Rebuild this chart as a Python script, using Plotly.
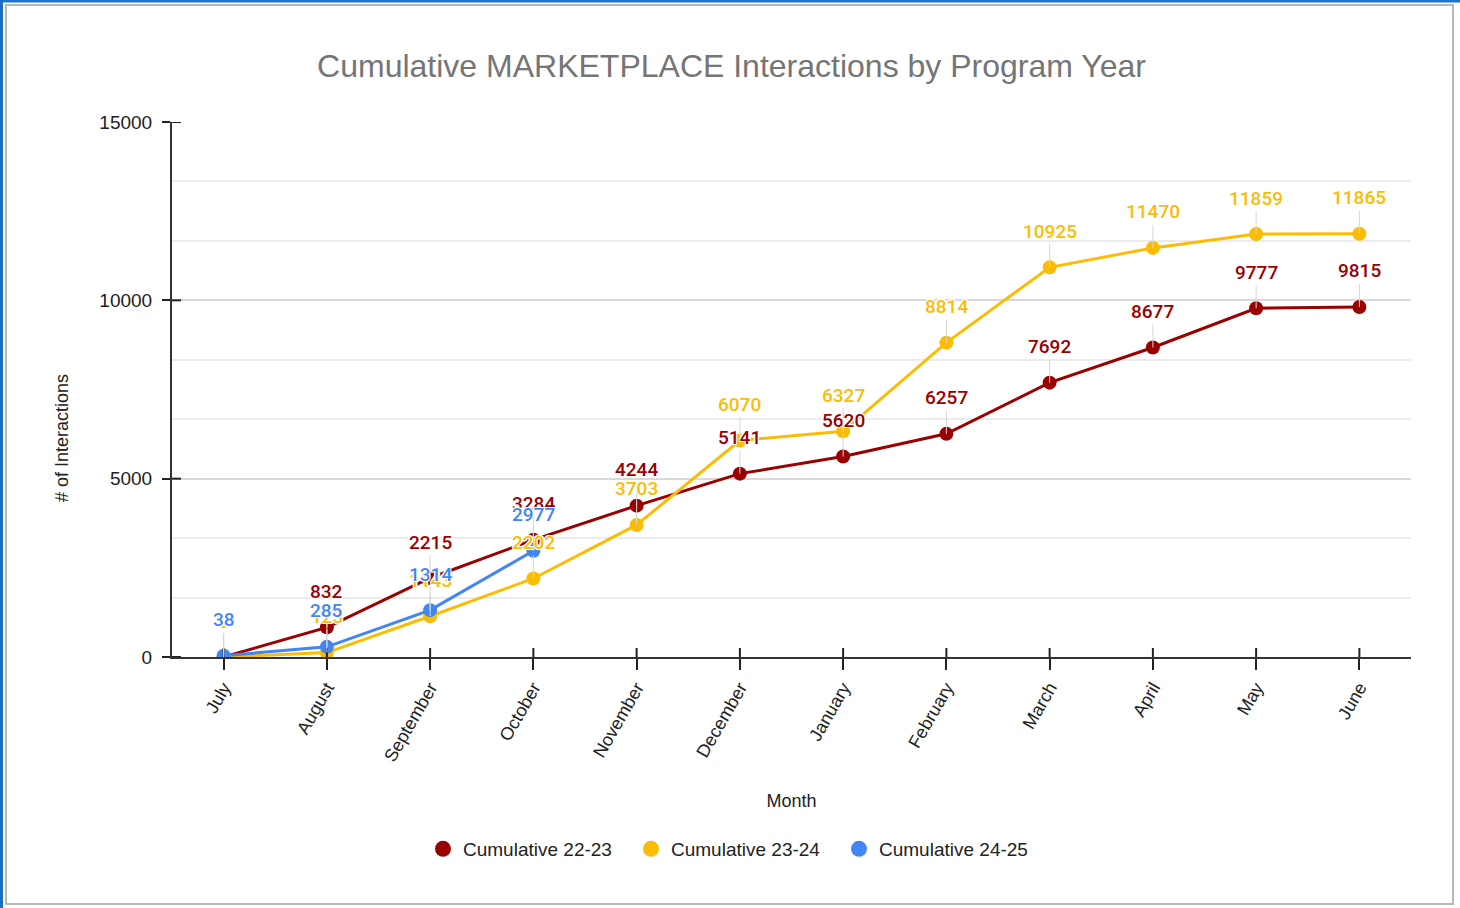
import plotly.graph_objects as go

months = ["July", "August", "September", "October", "November", "December",
          "January", "February", "March", "April", "May", "June"]
series_names = ["Cumulative 22-23", "Cumulative 23-24", "Cumulative 24-25"]
vals_22_23 = [0, 832, 2215, 3284, 4244, 5141, 5620, 6257, 7692, 8677, 9777, 9815]
vals_23_24 = [0, 123, 1143, 2202, 3703, 6070, 6327, 8814, 10925, 11470, 11859, 11865]
vals_24_25 = [38, 285, 1314, 2977]
y_ticks = [0, 5000, 10000, 15000]
colors = ["#990000", "#FBBC04", "#4285F4"]

all_series = [vals_22_23, vals_23_24, vals_24_25]

fig = go.Figure()
for name, vals, col in zip(series_names, all_series, colors):
    fig.add_trace(go.Scatter(
        x=months[:len(vals)], y=vals, name=name, mode="lines+markers",
        line=dict(color=col, width=3),
        marker=dict(color=col, size=14),
        showlegend=False, legendgroup=name,
    ))
# legend entries drawn as plain circles (as in the reference legend)
for name, col in zip(series_names, colors):
    fig.add_trace(go.Scatter(
        x=[None], y=[None], name=name, mode="markers", legendgroup=name,
        marker=dict(color=col, size=20), showlegend=True, hoverinfo="skip",
    ))

halo = "-1px -1px 0 #fff, 1px -1px 0 #fff, -1px 1px 0 #fff, 1px 1px 0 #fff, 0 1px 0 #fff, 0 -1px 0 #fff"
annotations = []
for vals, col in zip(all_series, colors):
    for m, v in zip(months, vals):
        annotations.append(dict(
            x=m, y=v, xref="x", yref="y", text=str(v),
            showarrow=True, arrowhead=0, arrowwidth=1, arrowcolor="#d6d6d6",
            ax=0, ay=-36, standoff=0,
            font=dict(family="Roboto", size=19, weight=500, color=col, shadow=halo),
        ))

W, H = 1239.0, 535.0
def px_x(x):
    return (x - 172) / W
def px_y(y):
    return (657 - y) / H

annotations.append(dict(
    text="# of Interactions", xref="paper", yref="paper",
    x=px_x(62), y=px_y(438), showarrow=False,
    textangle=-90, xanchor="center", yanchor="middle",
    font=dict(family="Liberation Sans", size=18, color="#222222"),
))

tick_col = "#222222"
shapes = [
    dict(type="rect", xref="x domain", yref="y domain",
         x0=px_x(6), x1=px_x(1453), y0=px_y(904), y1=px_y(5),
         line=dict(color="#b7b7b7", width=2), layer="below"),
    dict(type="line", xref="x domain", yref="y domain",
         x0=px_x(0), x1=px_x(1460), y0=px_y(1), y1=px_y(1),
         line=dict(color="#1a73c8", width=3)),
    dict(type="line", xref="x domain", yref="y domain",
         x0=px_x(1.5), x1=px_x(1.5), y0=px_y(0), y1=px_y(908),
         line=dict(color="#1a6fc0", width=3)),
]
# inner half of the crossing tick marks
for m in months:
    shapes.append(dict(type="line", xref="x", yref="y domain", x0=m, x1=m,
                       y0=0, y1=9 / H, line=dict(color=tick_col, width=2)))
for t in y_ticks:
    shapes.append(dict(type="line", xref="x domain", yref="y", x0=0, x1=9 / W,
                       y0=t, y1=t, line=dict(color=tick_col, width=2)))

fig.update_layout(
    width=1460, height=908,
    paper_bgcolor="white", plot_bgcolor="white",
    margin=dict(l=172, r=49, t=122, b=251),
    title=dict(text="Cumulative MARKETPLACE Interactions by Program Year",
               x=(731.5 / 1460), xref="container", xanchor="center",
               y=1 - 66 / 908, yref="container", yanchor="middle",
               font=dict(family="Liberation Sans", size=32, color="#757575")),
    showlegend=True,
    legend=dict(orientation="h", x=735 / 1460, xref="container", xanchor="center",
                y=1 - 849 / 908, yref="container", yanchor="middle",
                font=dict(family="Liberation Sans", size=19, color="#222222"),
                entrywidth=163, entrywidthmode="pixels",
                itemsizing="trace", traceorder="normal"),
    annotations=annotations,
    shapes=shapes,
    xaxis=dict(type="category", categoryorder="array", categoryarray=months,
               range=[-0.5, 11.5], tickangle=-60,
               ticks="outside", ticklen=11, tickwidth=2, tickcolor=tick_col,
               showline=True, linecolor="#333333", linewidth=2,
               showgrid=False, zeroline=False,
               tickfont=dict(family="Liberation Sans", size=18, color="#222222"),
               title=dict(text="Month", standoff=30,
                          font=dict(family="Liberation Sans", size=18, color="#222222"))),
    yaxis=dict(range=[0, 15000], tickmode="array", tickvals=y_ticks, tickformat="d",
               ticks="outside", ticklen=8, tickwidth=2, tickcolor=tick_col,
               ticklabelstandoff=6,
               showline=True, linecolor="#333333", linewidth=2,
               showgrid=True, gridcolor="#d9d9d9", gridwidth=1.5, zeroline=False,
               minor=dict(dtick=5000 / 3, tick0=0, showgrid=True, gridcolor="#ececec", gridwidth=1.5),
               tickfont=dict(family="Liberation Sans", size=19, color="#222222")),
)

fig.write_html("out.html")
